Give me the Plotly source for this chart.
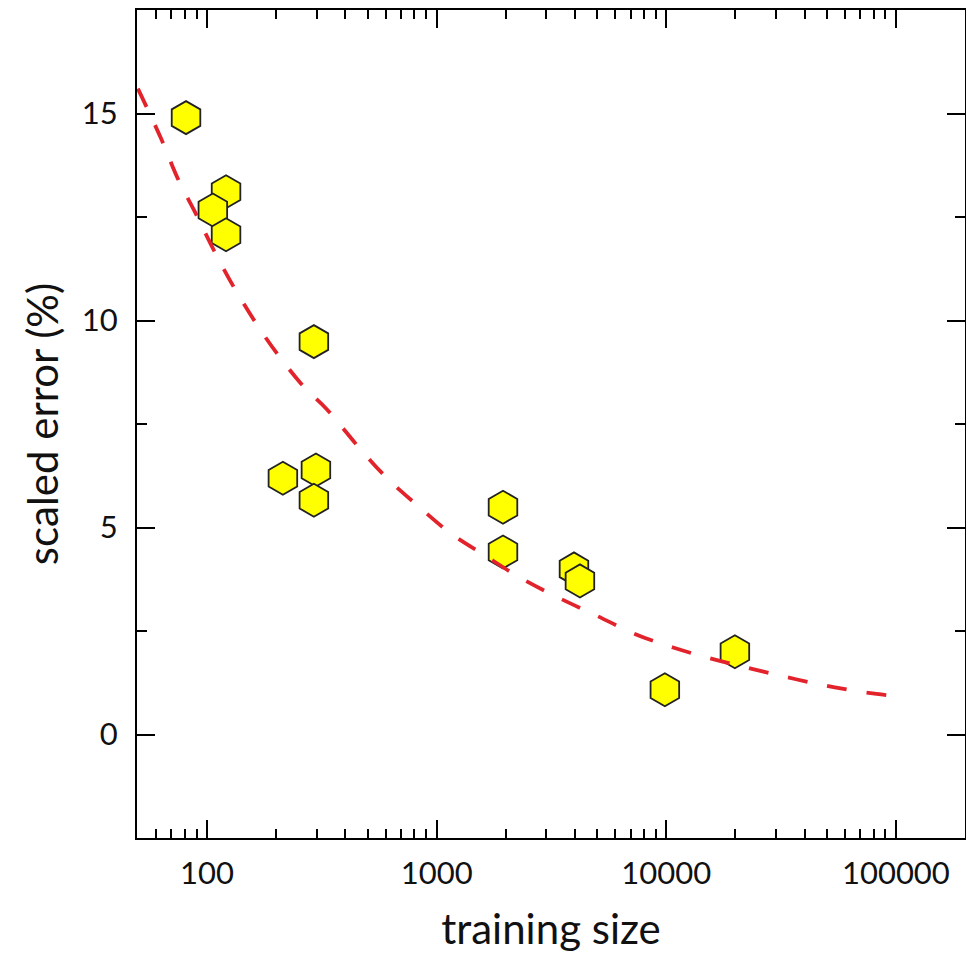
import plotly.graph_objects as go

# measured points
train_size = [81, 121, 106, 121, 292, 214, 298, 292, 1945, 1945, 3963, 4207, 9860, 19900]
scaled_err = [14.9, 13.11, 12.67, 12.07, 9.49, 6.19, 6.39, 5.66, 5.49, 4.41, 4.0, 3.71, 1.08, 2.0]

# dashed trend curve
fit_x = [50, 63, 75, 89, 107, 131, 165, 202, 264, 333, 464, 606, 818, 1144, 1596,
         2306, 3381, 4977, 7298, 10715, 15995, 23870, 36300, 54200, 82400, 100000]
fit_y = [15.6, 14.4, 13.4, 12.6, 11.7, 10.8, 9.9, 9.2, 8.4, 7.85, 6.9, 6.2, 5.55, 4.87, 4.35,
         3.79, 3.31, 2.87, 2.43, 2.10, 1.82, 1.58, 1.34, 1.14, 0.98, 0.93]

x_ticks = [100, 1000, 10000, 100000]
x_labels = ["100", "1000", "10000", "100000"]
y_ticks = [0, 5, 10, 15]

FONT = "Lato"

fig = go.Figure()
fig.add_trace(go.Scatter(
    x=train_size, y=scaled_err, mode="markers",
    marker=dict(symbol="hexagon", size=33, color="#ffff00",
                line=dict(color="#222222", width=1.8)),
    showlegend=False, hoverinfo="x+y"))
fig.add_trace(go.Scatter(
    x=fit_x, y=fit_y, mode="lines",
    line=dict(color="#e3232b", width=3.8, dash="20px,20px", shape="spline"),
    showlegend=False, hoverinfo="skip"))

# page body adds an 8px offset; size the figure to compensate
fig.update_layout(
    width=966, height=945,
    margin=dict(l=129, r=9, t=2, b=115),
    paper_bgcolor="white", plot_bgcolor="white",
    font=dict(family=FONT, size=30, color="#111111"),
)
fig.update_xaxes(
    type="log", range=[1.695, 5.301], automargin=False,
    tickmode="array", tickvals=x_ticks, ticktext=x_labels,
    ticks="inside", ticklen=18, tickwidth=2.2, tickcolor="black",
    minor=dict(ticks="inside", ticklen=9, tickwidth=2.2, tickcolor="black", dtick="D1"),
    showline=True, linecolor="black", linewidth=2.2, mirror="ticks",
    showgrid=False, zeroline=False,
    tickfont=dict(family=FONT, size=31, color="#111111"),
    ticklabelstandoff=7,
    title=dict(text="training size", font=dict(family=FONT, size=42, color="#111111"), standoff=32),
)
fig.update_yaxes(
    range=[-2.5, 17.5], automargin=False,
    tickmode="array", tickvals=y_ticks,
    ticks="inside", ticklen=18, tickwidth=2.2, tickcolor="black",
    minor=dict(ticks="inside", ticklen=10, tickwidth=2.2, tickcolor="black", dtick=2.5, tick0=0),
    showline=True, linecolor="black", linewidth=2.2, mirror="ticks",
    showgrid=False, zeroline=False,
    tickfont=dict(family=FONT, size=31, color="#111111"),
    ticklabelstandoff=11,
    title=dict(text="scaled error (%)", font=dict(family=FONT, size=42, color="#111111"), standoff=10),
)

fig.write_html("out.html")
